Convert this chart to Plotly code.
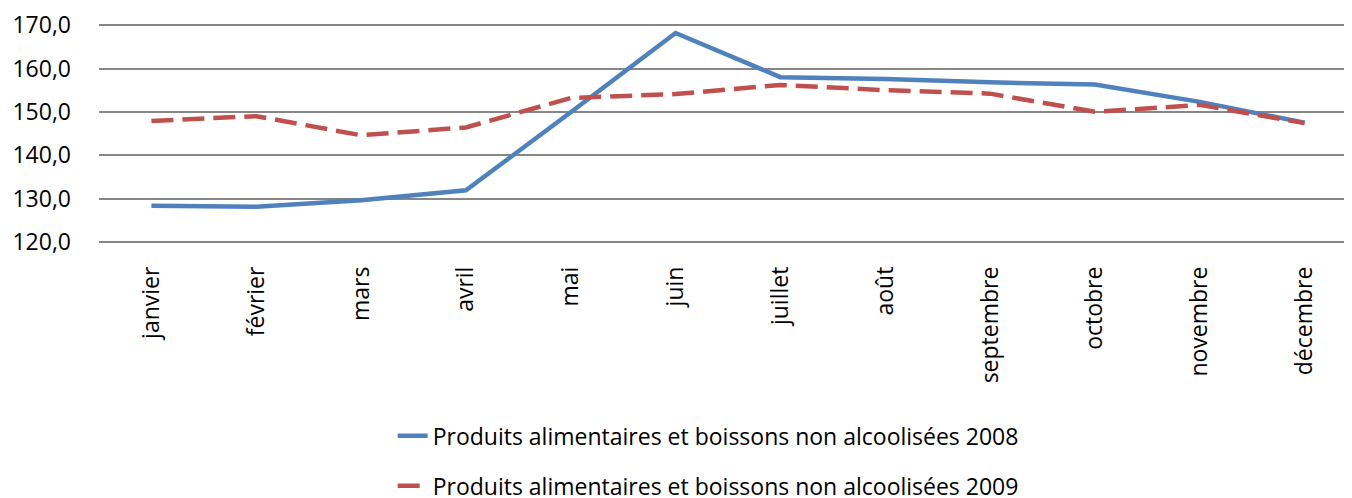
import plotly.graph_objects as go

months = ["janvier", "février", "mars", "avril", "mai", "juin", "juillet",
          "août", "septembre", "octobre", "novembre", "décembre"]
values_2008 = [128.3, 128.1, 129.6, 131.9, 149.9, 168.2, 158.0, 157.6, 156.8, 156.3, 152.3, 147.5]
values_2009 = [147.9, 149.0, 144.6, 146.4, 153.2, 154.1, 156.2, 155.0, 154.2, 150.0, 151.6, 147.4]
name_2008 = "Produits alimentaires et boissons non alcoolisées 2008"
name_2009 = "Produits alimentaires et boissons non alcoolisées 2009"
y_ticks = [120, 130, 140, 150, 160, 170]
y_tick_text = ["120,0", "130,0", "140,0", "150,0", "160,0", "170,0"]

FONT = "Open Sans"
FS = 23

fig = go.Figure()
fig.add_trace(go.Scatter(x=months, y=values_2008, mode="lines", name=name_2008,
                         legendgroup="a",
                         line=dict(color="#4F81BD", width=4.5)))
fig.add_trace(go.Scatter(x=months, y=values_2009, mode="lines", name=name_2009,
                         legendgroup="b",
                         line=dict(color="#C0504D", width=4.5, dash="22px,9px")))

fig.update_layout(
    width=1352, height=498,
    margin=dict(l=91, r=3, t=15, b=262, autoexpand=False),
    paper_bgcolor="white", plot_bgcolor="white",
    font=dict(family=FONT, size=FS, color="black"),
    showlegend=True,
    legend=dict(orientation="v", xref="container", yref="container",
                x=0.2845, xanchor="left", y=0.184, yanchor="top",
                traceorder="grouped", tracegroupgap=17,
                font=dict(family=FONT, size=FS, color="black"),
                bgcolor="rgba(0,0,0,0)"),
    xaxis=dict(type="category", range=[-0.5, 11.5], showgrid=False, zeroline=False,
               showline=False, tickangle=-90, ticks="", ticklabelstandoff=17,
               tickfont=dict(family=FONT, size=FS, color="black")),
    yaxis=dict(range=[119.5, 170.5], tickvals=y_ticks, ticktext=y_tick_text,
               showgrid=True, gridcolor="#868686", gridwidth=1.5,
               zeroline=False, showline=False, ticks="", ticklabelstandoff=27,
               tickfont=dict(family=FONT, size=FS, color="black")),
)

fig.write_html("out.html")
